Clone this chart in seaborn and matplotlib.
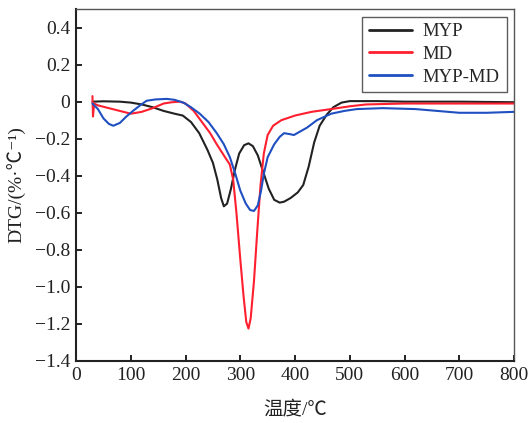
import numpy as np
import pandas as pd
import matplotlib
matplotlib.use("Agg")
import matplotlib.pyplot as plt
import seaborn as sns

# ---------- data ----------
myp_t = [30, 50, 80, 100, 120, 140, 160, 180, 195, 210, 225, 240, 250, 258, 265, 270,
         276, 283, 290, 298, 307, 315, 323, 332, 342, 352, 362, 372, 380, 392, 405, 415,
         425, 435, 445, 458, 470, 485, 500, 550, 600, 700, 800]
myp_v = [0.0, 0.002, 0.0, -0.005, -0.015, -0.03, -0.05, -0.065, -0.075, -0.11, -0.17, -0.26,
         -0.33, -0.42, -0.52, -0.565, -0.55, -0.47, -0.37, -0.28, -0.235, -0.225, -0.24, -0.29,
         -0.38, -0.47, -0.53, -0.545, -0.54, -0.52, -0.49, -0.45, -0.35, -0.22, -0.13, -0.07,
         -0.03, -0.005, 0.003, 0.003, 0.0, 0.0, -0.003]

md_t = [30, 31, 33, 40, 60, 80, 100, 120, 140, 160, 175, 190, 200, 215, 230, 245, 257, 270,
        281, 287, 293, 300, 306, 311, 315, 319, 325, 331, 337, 343, 350, 360, 375, 400, 430,
        466, 500, 530, 600, 700, 800]
md_v = [0.03, -0.08, -0.01, -0.02, -0.035, -0.05, -0.065, -0.055, -0.035, -0.01, -0.003, 0.0,
        -0.01, -0.05, -0.11, -0.17, -0.23, -0.29, -0.34, -0.42, -0.6, -0.85, -1.05, -1.19,
        -1.225, -1.17, -0.97, -0.7, -0.45, -0.28, -0.18, -0.13, -0.1, -0.075, -0.055, -0.04,
        -0.025, -0.015, -0.01, -0.01, -0.01]

mix_t = [30, 40, 50, 60, 68, 80, 92, 104, 117, 129, 145, 166, 180, 196, 210, 226, 242, 257,
         270, 281, 291, 300, 310, 318, 325, 332, 338, 343, 350, 362, 372, 380, 390, 398, 410,
         422, 440, 466, 490, 513, 560, 620, 660, 700, 750, 800]
mix_v = [-0.01, -0.04, -0.09, -0.12, -0.13, -0.115, -0.08, -0.05, -0.02, 0.005, 0.012, 0.015,
         0.01, -0.005, -0.03, -0.065, -0.11, -0.17, -0.23, -0.3, -0.39, -0.48, -0.55, -0.585,
         -0.59, -0.56, -0.48, -0.39, -0.3, -0.23, -0.19, -0.17, -0.175, -0.18, -0.16, -0.14,
         -0.1, -0.065, -0.05, -0.04, -0.035, -0.04, -0.05, -0.06, -0.06, -0.055]

series_names = ["MYP", "MD", "MYP-MD"]
colors = ["#222222", "#ff1f2f", "#1f4fc0"]

x_ticks = [0, 100, 200, 300, 400, 500, 600, 700, 800]
y_ticks = [0.4, 0.2, 0, -0.2, -0.4, -0.6, -0.8, -1.0, -1.2, -1.4]
y_labels = ["0.4", "0.2", "0", "\u22120.2", "\u22120.4", "\u22120.6", "\u22120.8",
            "\u22121.0", "\u22121.2", "\u22121.4"]

df = pd.concat([
    pd.DataFrame({"T": myp_t, "DTG": myp_v, "sample": "MYP"}),
    pd.DataFrame({"T": md_t, "DTG": md_v, "sample": "MD"}),
    pd.DataFrame({"T": mix_t, "DTG": mix_v, "sample": "MYP-MD"}),
], ignore_index=True)

# ---------- style ----------
sns.set_theme(style="ticks")
plt.rcParams["font.family"] = ["Liberation Serif", "Noto Sans CJK SC", "DejaVu Sans"]
plt.rcParams["axes.unicode_minus"] = True

fig = plt.figure(figsize=(5.28, 4.23), dpi=100)
ax = fig.add_axes([0.144, 0.1466, 0.8295, 0.832])

sns.lineplot(data=df, x="T", y="DTG", hue="sample", hue_order=series_names,
             palette=colors, sort=False, estimator=None, linewidth=1.5, ax=ax)

ax.set_xlim(0, 800)
ax.set_ylim(-1.4, 0.5)
ax.set_xticks(x_ticks)
ax.set_xticklabels([str(t) for t in x_ticks])
ax.set_yticks(y_ticks)
ax.set_yticklabels(y_labels)
ax.tick_params(direction="in", length=4, width=1.4, labelsize=14, colors="#222222", pad=4)

for side in ["left", "bottom"]:
    ax.spines[side].set_linewidth(1.5)
    ax.spines[side].set_color("#222222")
for side in ["top", "right"]:
    ax.spines[side].set_linewidth(1.0)
    ax.spines[side].set_color("#555555")

ax.set_xlabel("温度/℃", fontsize=14, color="#222222", labelpad=12)
ax.set_ylabel("DTG/(%·℃⁻¹)", fontsize=14, color="#222222", labelpad=6)

leg = ax.legend(loc="upper right", fontsize=13.5, frameon=True, fancybox=False,
                edgecolor="#333333", handlelength=2.3, borderpad=0.35,
                labelspacing=0.3, borderaxespad=0.4, handletextpad=0.6)
leg.get_frame().set_linewidth(1.0)
for line in leg.get_lines():
    line.set_linewidth(2.0)

fig.savefig("out.png", dpi=100)
